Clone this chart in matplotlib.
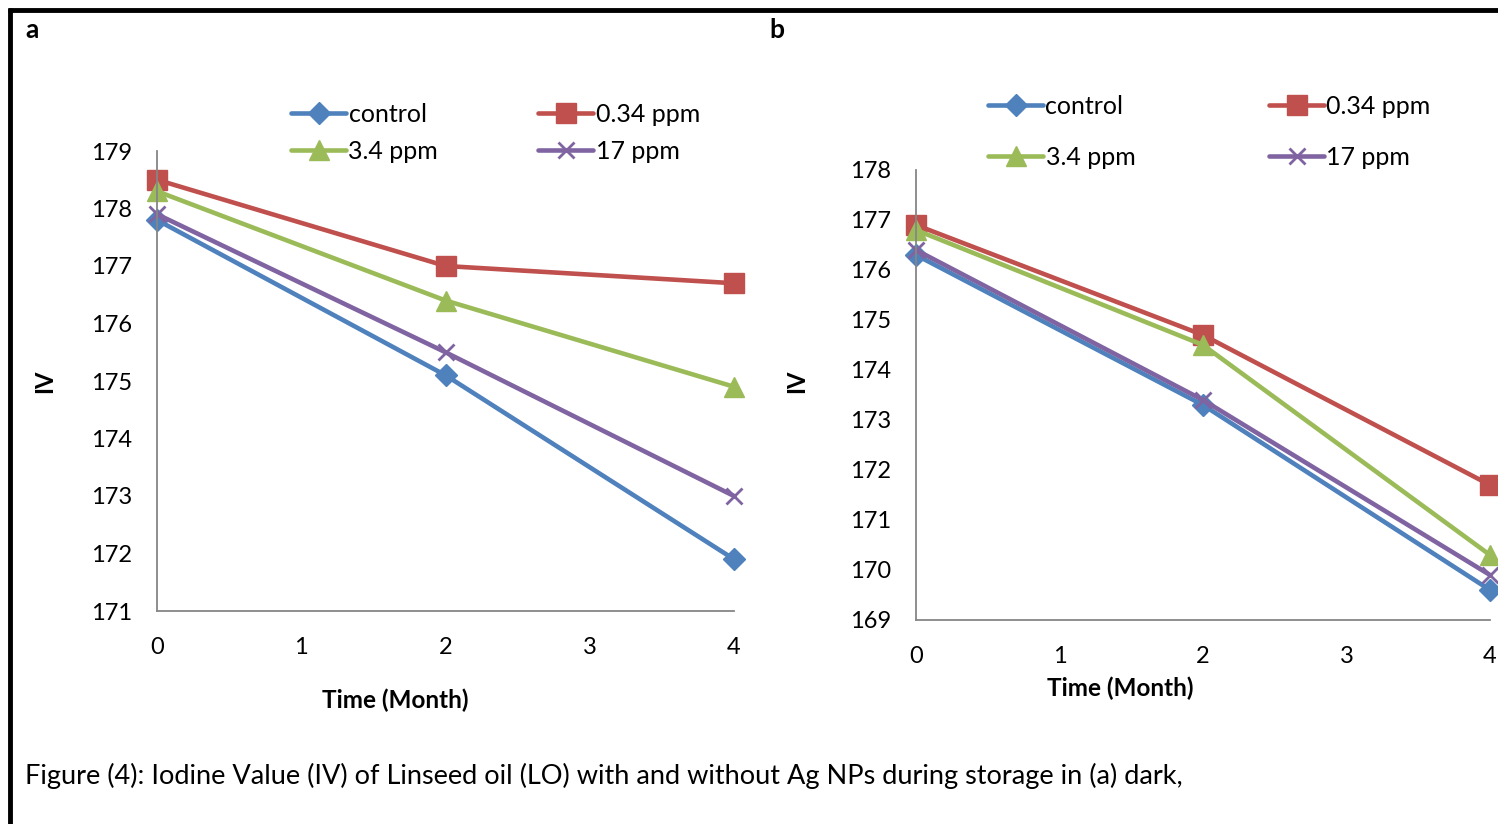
import matplotlib
matplotlib.use("Agg")
import matplotlib.pyplot as plt
from matplotlib.lines import Line2D

plt.rcParams['font.family'] = ['Lato', 'DejaVu Sans']

months = [0, 2, 4]
series_names = ["control", "0.34 ppm", "3.4 ppm", "17 ppm"]
colors = ["#4F81BD", "#C0504D", "#9BBB59", "#8064A2"]
markers = ["D", "s", "^", "x"]
msizes = [11, 14, 14, 12]

dark_control = [177.8, 175.1, 171.9]
dark_034 = [178.5, 177.0, 176.7]
dark_34 = [178.3, 176.4, 174.9]
dark_17 = [177.9, 175.5, 173.0]

light_control = [176.3, 173.3, 169.6]
light_034 = [176.9, 174.7, 171.7]
light_34 = [176.8, 174.5, 170.3]
light_17 = [176.4, 173.4, 169.9]

a_yticks = [171, 172, 173, 174, 175, 176, 177, 178, 179]
b_yticks = [169, 170, 171, 172, 173, 174, 175, 176, 177, 178]
xticks = [0, 1, 2, 3, 4]

W, H = 1498, 824
fig = plt.figure(figsize=(W / 100, H / 100), dpi=100)

def px_axes(l, t, r, b):
    return fig.add_axes([l / W, 1 - b / H, (r - l) / W, (b - t) / H])

ax_a = px_axes(157, 151, 734, 611)
ax_b = px_axes(916, 170, 1490, 620)

def style(ax, data, yticks, legend_anchor, colspace, labelspace):
    handles = []
    for vals, name, c, m, ms in zip(data, series_names, colors, markers, msizes):
        mew = 2 if m == "x" else 1
        h, = ax.plot(months, vals, color=c, lw=3.3, marker=m, markersize=ms,
                     markeredgewidth=mew, markeredgecolor=c, markerfacecolor=c,
                     label=name, clip_on=False, solid_capstyle='round')
        handles.append(h)
    ax.set_xlim(0, 4)
    ax.set_ylim(yticks[0], yticks[-1])
    ax.set_xticks(xticks)
    ax.set_yticks(yticks)
    ax.tick_params(axis='both', length=0, labelsize=17, colors='black')
    ax.tick_params(axis='y', pad=18)
    ax.tick_params(axis='x', pad=19)
    for s in ['top', 'right']:
        ax.spines[s].set_visible(False)
    for s in ['left', 'bottom']:
        ax.spines[s].set_color('#868686')
        ax.spines[s].set_linewidth(1.3)
    ax.set_ylabel("IV", fontsize=17, fontweight='bold')
    ax.set_xlabel("Time (Month)", fontsize=17.5, fontweight='bold')
    order = [0, 2, 1, 3]
    fig.legend([handles[i] for i in order], [series_names[i] for i in order],
               loc='center left', bbox_to_anchor=(legend_anchor[0] / W, 1 - legend_anchor[1] / H),
               ncol=2, frameon=False, fontsize=18, handlelength=2.2,
               handletextpad=0.1, columnspacing=colspace, labelspacing=labelspace,
               borderaxespad=0, borderpad=0)

style(ax_a, [dark_control, dark_034, dark_34, dark_17], a_yticks, (291, 133), 4.0, 0.55)
style(ax_b, [light_control, light_034, light_34, light_17], b_yticks, (988, 132), 5.35, 1.12)

ax_a.yaxis.set_label_coords((45 - 157) / (734 - 157), (611 - 381) / (611 - 151))
ax_a.xaxis.set_label_coords((395 - 157) / (734 - 157), -(700 - 611) / (611 - 151))
ax_b.yaxis.set_label_coords((797 - 916) / (1490 - 916), (620 - 381) / (620 - 170))
ax_b.xaxis.set_label_coords((1120 - 916) / (1490 - 916), -(688 - 620) / (620 - 170))
for ax in (ax_a, ax_b):
    ax.xaxis.label.set_verticalalignment('center')
    ax.yaxis.label.set_verticalalignment('center')

fig.text(25 / W, 1 - 30 / H, "a", fontsize=19, fontweight='bold', va='center', ha='left')
fig.text(769 / W, 1 - 30 / H, "b", fontsize=19, fontweight='bold', va='center', ha='left')
fig.text(25 / W, 1 - 776 / H, "Figure (4): Iodine Value (IV) of Linseed oil (LO) with and without Ag NPs during storage in (a) dark,",
         fontsize=19.5, va='center', ha='left')

fig.add_artist(Line2D([8 / W, 1], [1 - 9.5 / H, 1 - 9.5 / H], color='black', lw=3.5,
                      transform=fig.transFigure, solid_capstyle='butt'))
fig.add_artist(Line2D([10 / W, 10 / W], [0, 1 - 8 / H], color='black', lw=3.5,
                      transform=fig.transFigure, solid_capstyle='butt'))

fig.savefig("out.png", dpi=100)
